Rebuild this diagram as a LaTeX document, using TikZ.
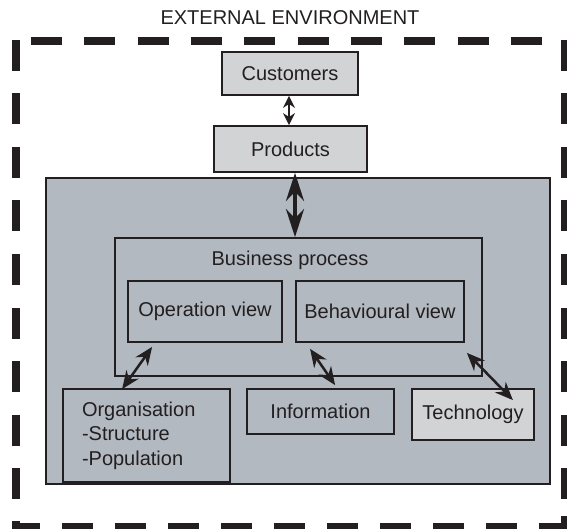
\documentclass[tikz,border=0pt]{standalone}
\usepackage{fontspec}
\setmainfont{Liberation Sans}
\usetikzlibrary{arrows.meta,calc}
\definecolor{ink}{HTML}{231F20}
\definecolor{panel}{HTML}{B3B9C1}
\definecolor{lightbox}{HTML}{D2D3D5}
\begin{document}
\begin{tikzpicture}[x=1pt,y=-1pt,
  font=\fontsize{20}{24.5}\selectfont, text=ink,
  boxline/.style={draw=ink, line width=1.8pt, inner sep=0pt},
  filledbox/.style={boxline, fill=lightbox},
  border/.style={draw=ink, line width=8pt},
  smallarrow/.style={draw=ink, line width=2.4pt, {Stealth[length=12pt,width=12pt]}-{Stealth[length=12pt,width=12pt]}},
  bigarrow/.style={draw=ink, line width=3.5pt, {Stealth[length=28pt,width=18pt]}-{Stealth[length=28pt,width=18pt]}},
  diagarrow/.style={draw=ink, line width=2.5pt, {Stealth[length=18pt,width=15pt]}-{Stealth[length=18pt,width=15pt]}}
]
\useasboundingbox (0,0) rectangle (567,529);

% external environment dashed border
\draw[border, dash pattern=on 31pt off 22.33pt] (31,41) -- (542,41);
\draw[border, dash pattern=on 31pt off 22.5pt] (16,40) -- (16,499);
\draw[border, dash pattern=on 31pt off 22.5pt] (565,40) -- (565,499);
\draw[border, dash pattern=on 31pt off 22pt, dash phase=3pt] (12,527) -- (569,527);
\fill[ink] (12,521) rectangle (20,529);
\fill[ink] (561,516) rectangle (569,529);

\node (title) at (290,18) {EXTERNAL ENVIRONMENT};

% organisation panel
\node[boxline, fill=panel, minimum width=504pt, minimum height=306pt] (panel) at (298,331) {};

\node[filledbox, minimum width=136pt, minimum height=43pt] (cust) at (290,73.5) {Customers};
\node[filledbox, minimum width=153pt, minimum height=46pt] (prod) at (290.5,149) {Products};

\node[boxline, minimum width=367pt, minimum height=138pt] (bp) at (298.5,307) {};
\node (bptext) at (290,260) {Business process};
\node[boxline, minimum width=154pt, minimum height=61pt] (ov) at (205,311.5) {Operation view};
\node[boxline, minimum width=168pt, minimum height=61pt] (bv) at (380,311.5) {Behavioural view};

\node[boxline, minimum height=93pt, text width=129pt, inner xsep=19pt, align=left] (org) at (146.5,435.5) {Organisation\\-Structure\\-Population};
\node[boxline, minimum width=147pt, minimum height=45pt] (info) at (320.5,411.5) {Information};
\node[filledbox, minimum width=122pt, minimum height=51pt] (tech) at (473,414.5) {Technology};

% connectors
\draw[smallarrow] ([xshift=-1pt]cust.south) -- ([xshift=-1pt]cust.south |- prod.north);
\draw[bigarrow] ([xshift=4.5pt]prod.south) -- ([xshift=4.5pt]prod.south |- bp.north);
\draw[diagarrow] ($(ov.south west)+(25,4)$) -- ($(org.north west)+(60,1)$);
\draw[diagarrow] ($(bv.south west)+(15,6)$) -- ($(info.north west)+(89,-3)$);
\draw[diagarrow] ($(bv.south east)+(2,10)$) -- ($(tech.north east)+(-22,12)$);
\end{tikzpicture}
\end{document}
